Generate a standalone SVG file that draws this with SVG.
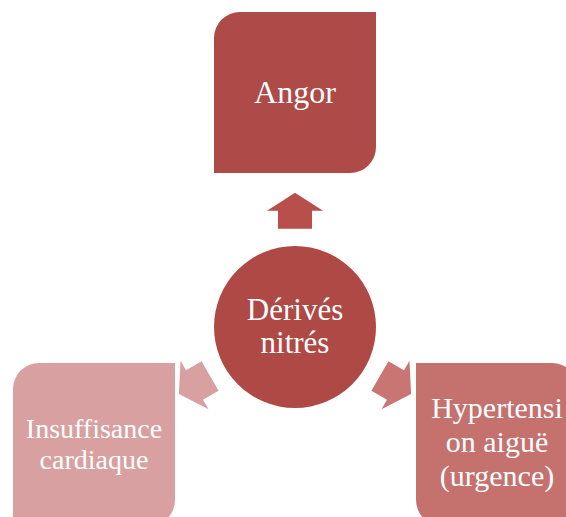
<svg xmlns="http://www.w3.org/2000/svg" xmlns:xlink="http://www.w3.org/1999/xlink" width="566" height="517" viewBox="0 0 566 517">
<style>
  .lbl { font-family: "Liberation Serif", "Times New Roman", serif; fill: #ffffff; text-anchor: middle; }
</style>
<defs>
  <path id="arrow" d="M0,-18 L28,0 L17,0 L17,18 L-17,18 L-17,0 L-28,0 Z"/>
</defs>
<rect width="566" height="517" fill="#ffffff"/>
<g id="connectors">
  <use xlink:href="#arrow" href="#arrow" transform="translate(295,210.7)" fill="#B84F4B"/>
  <use xlink:href="#arrow" href="#arrow" transform="translate(194.5,385) rotate(-120)" fill="#D8A0A0"/>
  <use xlink:href="#arrow" href="#arrow" transform="translate(395.5,385) rotate(120)" fill="#C87573"/>
</g>
<g id="angor">
  <path d="M240,12 L376,12 L376,147 A26,26 0 0 1 350,173 L214,173 L214,38 A26,26 0 0 1 240,12 Z" fill="#AE4A47"/>
  <text class="lbl" x="295" y="103" font-size="32">Angor</text>
</g>
<g id="derives">
  <circle cx="295" cy="327" r="81" fill="#AE4946"/>
  <text class="lbl" x="295" y="320" font-size="31">Dérivés</text>
  <text class="lbl" x="295" y="353" font-size="31">nitrés</text>
</g>
<g id="insuffisance">
  <path d="M39,363 L175,363 L175,500 A26,26 0 0 1 149,526 L13,526 L13,389 A26,26 0 0 1 39,363 Z" fill="#D8A0A0"/>
  <text class="lbl" x="94" y="438" font-size="28">Insuffisance</text>
  <text class="lbl" x="94" y="469" font-size="28">cardiaque</text>
</g>
<g id="hypertension">
  <path d="M416,363 L552,363 A26,26 0 0 1 578,389 L578,526 L442,526 A26,26 0 0 1 416,500 Z" fill="#C5716E"/>
  <text class="lbl" x="497" y="418" font-size="30">Hypertensi</text>
  <text class="lbl" x="497" y="452" font-size="30">on aiguë</text>
  <text class="lbl" x="497" y="486" font-size="30">(urgence)</text>
</g>
</svg>
